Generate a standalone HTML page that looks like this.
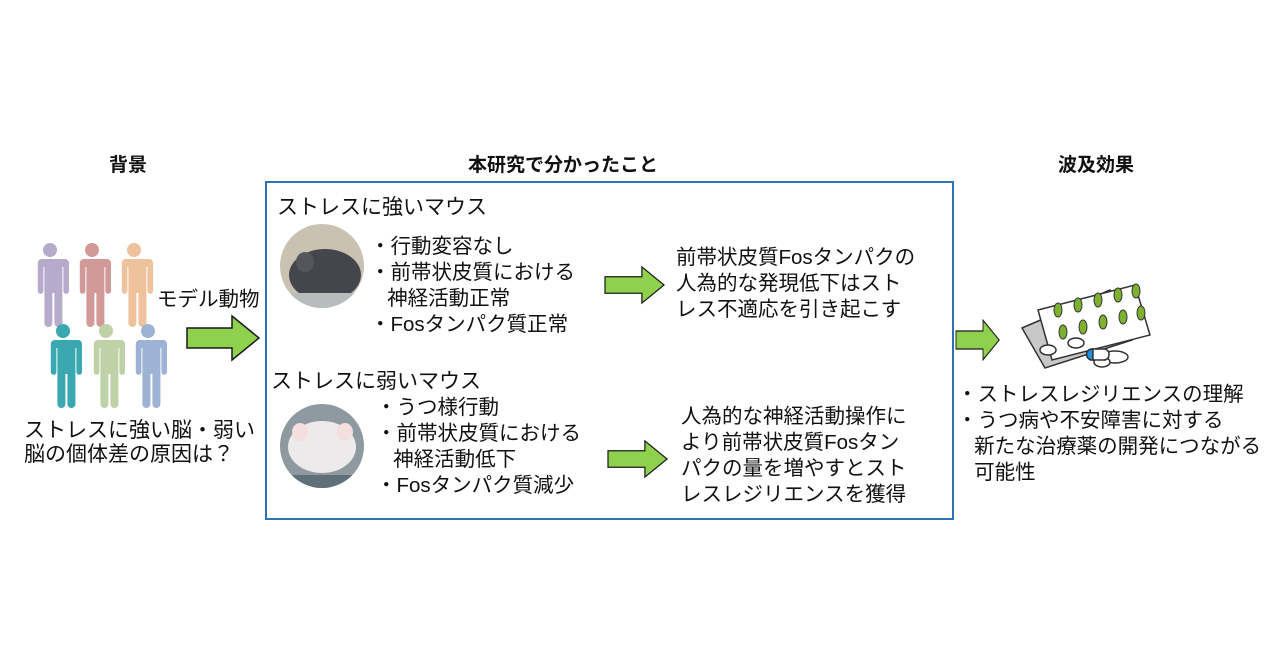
<!DOCTYPE html>
<html><head><meta charset="utf-8"><style>
body{margin:0;width:1280px;height:670px;background:#fff;position:relative;overflow:hidden;font-family:"Liberation Sans","Noto Sans CJK JP",sans-serif;color:#111}
.t{position:absolute;white-space:nowrap;font-size:20.5px;line-height:26px}
.h{position:absolute;font-weight:bold;font-size:19px;white-space:nowrap}
</style></head><body>
<div class="h" style="left:109px;top:150px">背景</div>
<div class="h" style="left:468px;top:150px">本研究で分かったこと</div>
<div class="h" style="left:1058px;top:150px">波及効果</div>
<div style="position:absolute;left:265px;top:181px;width:685px;height:335px;border:2px solid #2e74b5"></div>
<svg width="1280" height="670" style="position:absolute;left:0;top:0">
<defs>
<g id="p"><circle cx="0" cy="-31" r="7"/><path d="M-15,-22 h30 a4,4 0 0 1 4,4 v28 a2.8,2.8 0 0 1 -5.6,0 v-24 h-1 v56 a4,4 0 0 1 -8,0 v-30 h-2 v30 a4,4 0 0 1 -8,0 v-56 h-1 v24 a2.8,2.8 0 0 1 -5.6,0 v-28 a4,4 0 0 1 4,-4z"/></g>
<g id="a"><path d="M0,-10 h45 v-12 l27,22 l-27,22 v-12 h-45z" fill="#8fd14f" stroke="#1a1a1a" stroke-width="1.5"/></g>
<clipPath id="c1"><circle cx="322" cy="266" r="42"/></clipPath>
<clipPath id="c2"><circle cx="322" cy="446" r="42"/></clipPath>
</defs>
<use href="#p" x="50" y="281" fill="#b7abcc"/>
<use href="#p" x="92" y="281" fill="#d19a98"/>
<use href="#p" x="134" y="281" fill="#efc29e"/>
<use href="#p" x="63" y="362" fill="#3aa8b0"/>
<use href="#p" x="106" y="362" fill="#bfd1a6"/>
<use href="#p" x="148" y="362" fill="#9db2d4"/>
<use href="#a" x="187" y="338"/>
<use href="#a" x="605" y="285" transform="translate(605,285) scale(0.82) translate(-605,-285)"/>
<use href="#a" x="608" y="459" transform="translate(608,459) scale(0.82) translate(-608,-459)"/>
<use href="#a" x="956" y="340" transform="translate(956,340) scale(0.6,0.9) translate(-956,-340)"/>
<g clip-path="url(#c1)"><rect x="280" y="224" width="84" height="84" fill="#c9c2b2"/><ellipse cx="325" cy="275" rx="36" ry="26" fill="#45464c"/><ellipse cx="305" cy="262" rx="9" ry="10" fill="#55565c"/><rect x="280" y="293" width="84" height="15" fill="#b9bcbd"/></g>
<g clip-path="url(#c2)"><rect x="280" y="404" width="84" height="84" fill="#8e9aa0"/><ellipse cx="322" cy="447" rx="34" ry="26" fill="#eceaea"/><ellipse cx="300" cy="432" rx="8" ry="9" fill="#f5dede"/><ellipse cx="345" cy="432" rx="8" ry="9" fill="#f5dede"/><rect x="280" y="475" width="84" height="13" fill="#607078"/></g>
<g stroke="#333" stroke-width="1.5">
<polygon points="1022,328 1110,290 1132,340 1045,368" fill="#c8c8c8"/>
<polygon points="1038,310 1135,285 1150,335 1052,360" fill="#fff"/>
<g fill="#fff"><ellipse cx="1048" cy="350" rx="8" ry="5"/><ellipse cx="1076" cy="343" rx="8" ry="5"/><ellipse cx="1115" cy="357" rx="13" ry="6"/><ellipse cx="1102" cy="362" rx="8" ry="5"/></g>
<rect x="1087" y="349" width="22" height="11" rx="5" fill="#fff"/><path d="M1093,349 h-1 a5.5,5.5 0 0 0 0,11 h1z" fill="#1e90e0"/>
</g>
<g fill="#7cb230" stroke="#333" stroke-width="1">
<ellipse cx="1058" cy="310" rx="4" ry="7"/><ellipse cx="1078" cy="305" rx="4" ry="7"/><ellipse cx="1098" cy="300" rx="4" ry="7"/><ellipse cx="1118" cy="295" rx="4" ry="7"/><ellipse cx="1136" cy="291" rx="4" ry="7"/>
<ellipse cx="1063" cy="332" rx="4" ry="7"/><ellipse cx="1083" cy="327" rx="4" ry="7"/><ellipse cx="1103" cy="322" rx="4" ry="7"/><ellipse cx="1123" cy="317" rx="4" ry="7"/><ellipse cx="1141" cy="313" rx="4" ry="7"/>
</g>
</svg>
<div class="t" style="left:157px;top:287px">モデル動物</div>
<div class="t" style="left:24px;top:419px;font-size:21px;line-height:24px">ストレスに強い脳・弱い<br>脳の個体差の原因は？</div>
<div class="t" style="left:277px;top:195px;font-size:21px">ストレスに強いマウス</div>
<div class="t" style="left:370px;top:234px">・行動変容なし<br>・前帯状皮質における<br>&nbsp;&nbsp;&nbsp;神経活動正常<br>・Fosタンパク質正常</div>
<div class="t" style="left:271px;top:369px;font-size:21px">ストレスに弱いマウス</div>
<div class="t" style="left:376px;top:395px">・うつ様行動<br>・前帯状皮質における<br>&nbsp;&nbsp;&nbsp;神経活動低下<br>・Fosタンパク質減少</div>
<div class="t" style="left:676px;top:245px">前帯状皮質Fosタンパクの<br>人為的な発現低下はスト<br>レス不適応を引き起こす</div>
<div class="t" style="left:681px;top:404px">人為的な神経活動操作に<br>より前帯状皮質Fosタン<br>パクの量を増やすとスト<br>レスレジリエンスを獲得</div>
<div class="t" style="left:957px;top:382px">・ストレスレジリエンスの理解<br>・うつ病や不安障害に対する<br>&nbsp;&nbsp;&nbsp;新たな治療薬の開発につながる<br>&nbsp;&nbsp;&nbsp;可能性</div>
</body></html>
